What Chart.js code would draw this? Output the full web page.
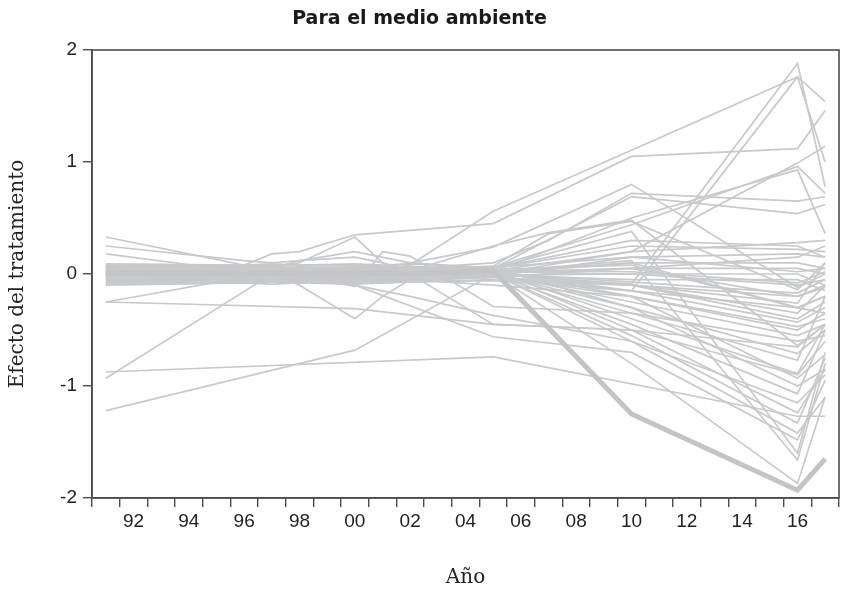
<!DOCTYPE html>
<html>
<head>
<meta charset="utf-8">
<script src="https://cdn.jsdelivr.net/npm/chart.js@4"></script>
<style>
  html, body { margin: 0; padding: 0; background: #ffffff; }
  #wrap { width: 845px; height: 590px; position: relative; }
</style>
</head>
<body>
<div id="wrap"><canvas id="c"></canvas></div>
<script>
// ---- Categories (x axis) ----
const allYears = [1991,1992,1993,1994,1995,1996,1997,1998,1999,2000,2001,2002,2003,2004,2005,2006,2007,2008,2009,2010,2011,2012,2013,2014,2015,2016,2017];
// Years in which the series have observations
const dataYears = [1991,1996,1997,1998,2000,2001,2002,2005,2007,2010,2016,2017];

// ---- Treated unit (thick line) ----
const treated = [0.01, 0.0, 0.01, 0.0, 0.0, 0.01, 0.0, 0.03, null, -1.25, -1.93, -1.65];

// ---- Placebo units (thin grey lines) ----
const p01 = [0.06, 0.05, 0.04, 0.05, 0.03, 0.04, 0.08, 0.56, null, null, 1.76, 1.54];
const p02 = [0.02, 0.01, 0.0, 0.02, 0.01, 0.0, 0.01, 0.0, null, -0.09, 1.88, 0.78];
const p03 = [-0.02, -0.01, -0.03, -0.02, -0.01, -0.02, -0.01, -0.02, null, -0.15, 1.76, 1.0];
const p04 = [0.05, 0.08, 0.18, 0.2, 0.35, null, null, 0.45, null, 1.05, 1.12, 1.46];
const p05 = [0.03, 0.02, 0.03, 0.02, 0.04, 0.03, 0.02, 0.03, null, 0.2, 0.99, 1.14];
const p06 = [0.07, 0.06, 0.05, 0.06, 0.05, 0.06, 0.05, 0.06, null, 0.44, 0.96, 0.72];
const p07 = [-0.04, -0.03, -0.04, -0.03, -0.05, -0.04, -0.03, 0.02, null, 0.5, 0.93, 0.36];
const p08 = [0.04, 0.05, 0.04, 0.03, 0.05, 0.04, 0.05, 0.1, 0.3, 0.72, 0.65, 0.69];
const p09 = [-0.01, 0.0, -0.01, 0.0, -0.02, 0.0, -0.01, 0.05, null, 0.69, 0.54, 0.62];
const p10 = [0.0, 0.01, 0.02, 0.01, 0.05, 0.06, 0.1, 0.24, null, 0.8, -0.12, 0.0];
const p11 = [-0.05, -0.04, -0.05, -0.04, -0.05, -0.04, -0.05, 0.0, null, 0.2, 0.28, 0.3];
const p12 = [0.08, 0.07, 0.08, 0.07, 0.08, 0.07, 0.06, 0.05, null, 0.25, 0.22, 0.2];
const p13 = [-0.06, -0.05, -0.06, -0.05, -0.06, -0.05, -0.04, -0.02, null, 0.15, 0.18, 0.15];
const p14 = [0.01, 0.02, 0.01, 0.0, 0.01, 0.02, 0.01, 0.0, null, 0.1, 0.1, 0.05];
const p15 = [-0.07, -0.06, -0.05, -0.06, -0.07, -0.06, -0.05, -0.03, null, 0.05, 0.05, 0.0];
const p16 = [0.05, 0.04, 0.05, 0.04, 0.03, 0.04, 0.03, 0.02, null, 0.0, 0.0, -0.1];
const p17 = [-0.03, -0.02, -0.03, -0.04, -0.03, -0.02, -0.03, -0.01, null, -0.05, -0.05, -0.15];
const p18 = [0.02, 0.03, 0.02, 0.03, 0.02, 0.03, 0.04, 0.07, 0.36, 0.47, -0.14, 0.1];
const p19 = [0.0, -0.01, 0.0, 0.01, 0.02, 0.01, 0.03, 0.25, 0.37, 0.48, -0.64, -0.45];
const p20 = [0.06, 0.07, 0.06, 0.05, 0.06, 0.07, 0.06, 0.01, null, null, -0.17, -0.05];
const p21 = [-0.08, -0.07, -0.06, -0.07, -0.08, -0.07, -0.06, -0.03, null, -0.1, -0.26, 0.1];
const p22 = [0.04, 0.03, 0.04, 0.03, 0.04, 0.05, 0.04, 0.02, null, -0.15, -0.43, -0.3];
const p23 = [-0.02, -0.03, -0.02, -0.01, -0.02, -0.03, -0.02, -0.02, null, -0.2, -0.47, -0.4];
const p24 = [0.03, 0.04, 0.03, 0.04, 0.03, 0.02, 0.03, 0.0, null, -0.3, -0.71, -0.5];
const p25 = [-0.05, -0.06, -0.05, -0.06, -0.05, -0.06, -0.05, 0.0, null, -0.35, -0.77, -0.2];
const p26 = [0.0, 0.0, 0.02, 0.01, 0.0, 0.01, 0.0, 0.02, null, -0.4, -0.89, -0.45];
const p27 = [0.07, 0.06, 0.07, 0.08, 0.07, 0.06, 0.07, 0.03, null, -0.2, -0.93, -0.72];
const p28 = [-0.04, -0.05, -0.04, -0.03, -0.04, -0.05, -0.04, 0.05, null, -0.3, -1.0, -0.85];
const p29 = [0.01, 0.0, 0.01, 0.02, 0.0, 0.01, 0.0, 0.0, null, -0.45, -1.07, -0.5];
const p30 = [0.0, -0.02, 0.0, -0.05, -0.1, -0.15, -0.2, -0.37, null, -0.6, -1.15, -0.9];
const p31 = [0.05, 0.06, 0.05, 0.04, 0.05, 0.06, 0.05, 0.02, null, -0.5, -1.24, -0.85];
const p32 = [-0.875, null, null, null, null, null, null, -0.74, null, null, -1.27, -1.27];
const p33 = [-0.06, -0.07, -0.06, -0.05, -0.06, -0.07, -0.06, 0.0, null, -0.55, -1.33, -0.75];
const p34 = [0.02, 0.01, 0.02, 0.03, 0.02, 0.01, 0.02, 0.0, null, -0.6, -1.42, -1.1];
const p35 = [0.03, 0.02, 0.0, -0.02, -0.1, null, null, -0.56, null, -0.7, -1.48, -0.95];
const p36 = [-0.01, 0.0, -0.01, 0.0, -0.01, 0.0, 0.0, 0.05, null, 0.38, -1.6, -0.7];
const p37 = [0.04, 0.05, 0.06, 0.05, 0.04, 0.05, 0.04, 0.02, null, 0.12, -1.66, -0.8];
const p38 = [-0.03, -0.04, -0.03, -0.02, -0.03, -0.04, -0.03, 0.0, null, -0.8, -1.87, -1.1];
const p39 = [0.33, 0.08, 0.05, 0.04, 0.03, 0.02, 0.03, 0.02, null, 0.1, -0.3, -0.2];
const p40 = [0.25, 0.12, 0.1, 0.12, 0.15, 0.1, 0.02, 0.0, null, -0.25, -0.55, -0.45];
const p41 = [0.02, 0.03, 0.05, 0.1, 0.33, 0.1, 0.03, 0.0, null, -0.1, -0.35, -0.1];
const p42 = [0.0, 0.01, 0.0, -0.02, -0.11, 0.2, 0.16, -0.29, null, -0.35, -0.6, -0.55];
const p43 = [0.04, 0.05, 0.0, -0.1, -0.4, -0.2, -0.05, -0.1, null, -0.2, -0.5, -0.35];
const p44 = [-0.93, null, 0.0, 0.01, 0.0, -0.01, 0.0, 0.01, null, 0.05, -0.2, -0.1];
const p45 = [-1.22, null, null, null, -0.68, null, null, 0.0, null, -0.1, -0.4, -0.25];
const p46 = [-0.25, null, null, null, -0.31, null, null, -0.45, null, -0.5, -0.65, -0.45];
const p47 = [-0.25, -0.03, -0.02, -0.03, -0.02, -0.03, -0.02, -0.01, null, 0.0, -0.1, -0.05];
const p48 = [0.18, 0.02, 0.03, 0.02, 0.03, 0.02, 0.03, 0.01, null, 0.05, 0.15, 0.25];
const p49 = [-0.1, -0.08, -0.07, -0.08, -0.09, -0.08, -0.07, -0.05, null, -0.15, -0.3, -0.2];
const p50 = [0.0, 0.0, 0.01, 0.0, 0.0, 0.0, 0.0, -0.45, null, -0.5, -0.9, -0.6];
const p51 = [0.0, 0.0, 0.05, 0.12, 0.2, null, 0.1, 0.05, null, 0.3, 0.25, 0.15];
const p52 = [0.09, 0.08, 0.09, 0.08, 0.09, 0.08, 0.09, 0.06, null, 0.15, 0.02, 0.05];
const p53 = [-0.09, -0.08, -0.09, -0.08, -0.07, -0.08, -0.07, -0.06, null, -0.1, -0.2, -0.12];
const p54 = [0.0, 0.01, 0.0, 0.01, 0.0, 0.01, 0.02, 0.03, null, 0.02, -0.08, 0.02];
const p55 = [-0.01, -0.02, -0.01, -0.02, -0.01, -0.02, -0.01, 0.04, null, 0.08, -0.3, -0.35];

const placebos = [p01,p02,p03,p04,p05,p06,p07,p08,p09,p10,p11,p12,p13,p14,p15,p16,p17,p18,p19,p20,
  p21,p22,p23,p24,p25,p26,p27,p28,p29,p30,p31,p32,p33,p34,p35,p36,p37,p38,p39,p40,
  p41,p42,p43,p44,p45,p46,p47,p48,p49,p50,p51,p52,p53,p54,p55];

// ---- Text ----
const chartTitle = 'Para el medio ambiente';
const xTitle = 'Año';
const yTitle = 'Efecto del tratamiento';

function toFull(arr) {
  return allYears.map(y => {
    const i = dataYears.indexOf(y);
    return i >= 0 ? arr[i] : null;
  });
}

const GREY = '#c8c9cb';
const datasets = [{
  label: 'tratado',
  data: toFull(treated),
  borderColor: '#c3c4c6',
  borderWidth: 5,
  pointRadius: 0,
  tension: 0,
  spanGaps: true,
  borderJoinStyle: 'miter'
}];
placebos.forEach((s, i) => {
  datasets.push({
    label: 'placebo ' + (i + 1),
    data: toFull(s),
    borderColor: GREY,
    borderWidth: 1.7,
    pointRadius: 0,
    tension: 0,
    spanGaps: true
  });
});

const frame = {
  id: 'frame',
  afterDatasetsDraw(chart) {
    const a = chart.chartArea;
    const ctx = chart.ctx;
    ctx.save();
    ctx.strokeStyle = '#4d4d4d';
    ctx.lineWidth = 1.6;
    ctx.strokeRect(a.left, a.top, a.right - a.left, a.bottom - a.top);
    ctx.restore();
  }
};

new Chart(document.getElementById('c'), {
  type: 'line',
  data: { labels: allYears.map(String), datasets },
  plugins: [frame],
  options: {
    responsive: true,
    maintainAspectRatio: false,
    animation: false,
    events: [],
    layout: { padding: { top: 0, left: 0, right: 6, bottom: 0 } },
    plugins: {
      legend: { display: false },
      tooltip: { enabled: false },
      title: {
        display: true,
        text: chartTitle,
        color: '#1a1a1a',
        font: { family: 'DejaVu Sans', weight: 'bold', size: 19 },
        padding: { top: 8, bottom: 19.2 }
      }
    },
    scales: {
      x: {
        type: 'category',
        offset: true,
        grid: { offset: true, drawOnChartArea: false, drawTicks: true, tickLength: 9, color: '#4d4d4d', lineWidth: 1.4 },
        border: { display: true, color: '#4d4d4d', width: 1.6 },
        ticks: {
          autoSkip: false, maxRotation: 0, minRotation: 0, padding: 3,
          color: '#222',
          font: { family: 'Liberation Sans', size: 19 },
          callback: function (v, idx) {
            const y = allYears[idx];
            return y % 2 === 0 ? String(y).slice(2) : '';
          }
        },
        title: {
          display: true, text: xTitle, color: '#222',
          font: { family: 'DejaVu Serif', size: 20 },
          padding: { top: 0, bottom: 0 }
        },
        afterFit(scale) { scale.height = 92; }
      },
      y: {
        min: -2, max: 2,
        grid: { drawOnChartArea: false, drawTicks: true, tickLength: 9, color: '#4d4d4d', lineWidth: 1.4 },
        border: { display: true, color: '#4d4d4d', width: 1.6 },
        ticks: {
          stepSize: 1, padding: 6, color: '#222',
          font: { family: 'Liberation Sans', size: 19 }
        },
        title: {
          display: true, text: yTitle, color: '#222',
          font: { family: 'DejaVu Serif', size: 20 },
          padding: { top: 6, bottom: 0 }
        },
        afterFit(scale) { scale.width = 92; }
      }
    }
  }
});
</script>
</body>
</html>
